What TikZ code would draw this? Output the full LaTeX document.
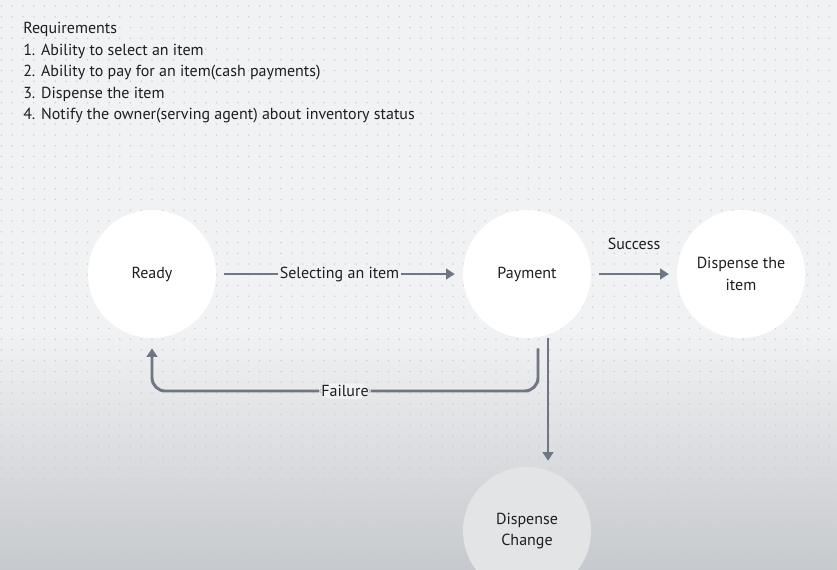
\documentclass[tikz,border=0pt]{standalone}
\usepackage{fontspec}
\setmainfont{PT Sans}
\usetikzlibrary{arrows.meta}

\newcommand*{\picw}{837}
\newcommand*{\pich}{569}
\newcommand*{\dotgap}{10.75}

\definecolor{bgcol}{HTML}{F1F2F4}
\definecolor{shadecol}{HTML}{C6C9CD}
\definecolor{dotcol}{HTML}{CDD0D4}
\definecolor{linecol}{HTML}{6F7784}
\definecolor{textcol}{HTML}{1E1E21}
\definecolor{fadecol}{HTML}{E3E4E6}

\begin{document}
\begin{tikzpicture}
[
	x=0.75pt, y=-0.75pt,
	every node/.style={text=textcol, font=\fontsize{12}{16.1}\selectfont},
	statept/.style={circle,fill=white,inner sep=0pt,minimum size=96pt,align=center},
	flow/.style={draw=linecol,line width=2.2pt,-{Triangle[length=6.5pt,width=8pt]}},
	gap/.style={shorten <=6, shorten >=6},
	lbl/.style={fill=bgcol,inner sep=1.5pt}
]

	% background
	\useasboundingbox (0,0) rectangle (\picw,\pich);
	\fill[bgcol] (0,0) rectangle (\picw,\pich);
	\shade[top color=bgcol, bottom color=shadecol] (0,330) rectangle (\picw,\pich);
	\foreach \i in {0,...,77}
		\foreach \j in {0,...,52}
			\fill[dotcol] ({1.5+\i*\dotgap},{6+\j*\dotgap}) circle (0.8);

	% requirements
	\node[anchor=north west, align=left, inner sep=0pt] (req) at (23,22)
		{Requirements\\
		 1. Ability to select an item\\
		 2. Ability to pay for an item(cash payments)\\
		 3. Dispense the item\\
		 4. Notify the owner(serving agent) about inventory status};

	% states
	\node[statept] (ready) at (152,274) {Ready};
	\node[statept] (payment) at (527,274) {Payment};
	\node[statept] (item) at (741,274) {Dispense the\\item};
	\node[statept,fill=fadecol] (change) at (527,531) {Dispense\\Change};

	% transitions
	\draw[flow,gap] (ready) -- node[lbl] (sel) {Selecting an item} (payment);
	\draw[flow,gap] (payment) -- (item)
		node[midway,above=14pt] (succ) {Success};

	\coordinate (failrow) at (0,391);
	\coordinate (failtop) at ([shift={(11,10)}]payment.south);
	\coordinate (failend) at ([shift={(0,10)}]ready.south);
	\draw[flow,rounded corners=10]
		(failtop) -- (failtop |- failrow)
		-- node[lbl] (fail) {Failure} (failend |- failrow)
		-- (failend);

	\draw[flow] ([shift={(21,0)}]payment.south) -- ([shift={(21,-6)}]change.north);

\end{tikzpicture}
\end{document}
